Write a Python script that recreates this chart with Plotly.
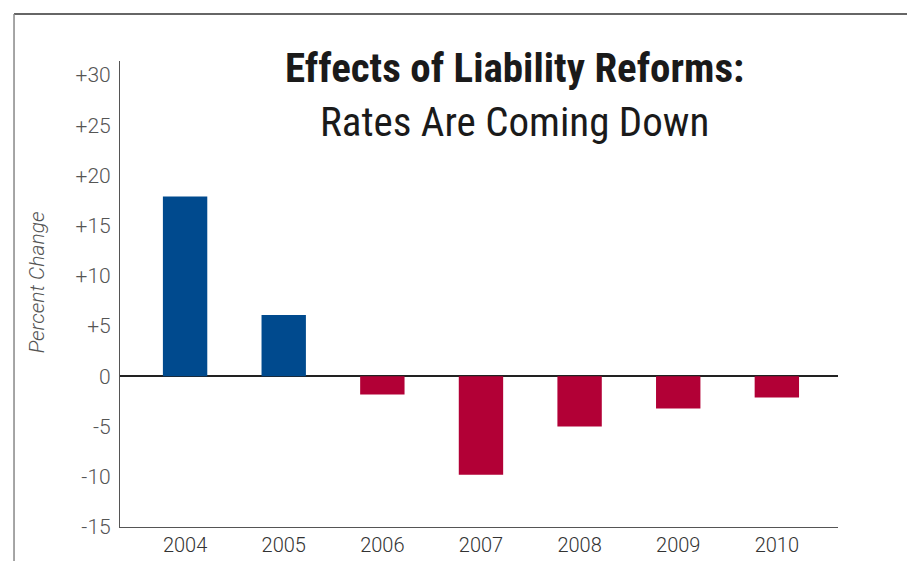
import plotly.graph_objects as go

years = ["2004", "2005", "2006", "2007", "2008", "2009", "2010"]
pct_change = [17.9, 6.1, -1.8, -9.8, -5.0, -3.2, -2.1]
y_tick_vals = [30, 25, 20, 15, 10, 5, 0, -5, -10, -15]
y_tick_text = ["+30", "+25", "+20", "+15", "+10", "+5", "0", "-5", "-10", "-15"]
title_line1 = "Effects of Liability Reforms:"
title_line2 = "Rates Are Coming Down"
y_title = "Percent Change"

BLUE = "#004A8E"
RED = "#B20036"
bar_colors = [BLUE if v >= 0 else RED for v in pct_change]

fig = go.Figure()
fig.add_trace(go.Bar(
    x=years, y=pct_change, marker=dict(color=bar_colors, line=dict(width=0)),
    width=0.45, showlegend=False, hoverinfo="x+y",
))

narrow = "Liberation Sans Narrow, Roboto Condensed, Arial Narrow, sans-serif"
light = "Roboto, Liberation Sans, sans-serif"

fig.update_layout(
    width=915, height=561,
    margin=dict(l=112, r=85, t=53, b=28),
    paper_bgcolor="white", plot_bgcolor="white",
    xaxis=dict(
        type="category", range=[-0.66, 6.62],
        showline=True, linecolor="#555", linewidth=1.2,
        showgrid=False, zeroline=False, ticks="",
        tickfont=dict(family=light, size=20, color="#333", weight=300),
    ),
    yaxis=dict(
        range=[-15, 31.4], tickvals=y_tick_vals, ticktext=y_tick_text,
        showline=True, linecolor="#555", linewidth=1.2,
        showgrid=False, zeroline=True, zerolinecolor="#222", zerolinewidth=1.5,
        ticks="", ticklabelstandoff=4,
        tickfont=dict(family=light, size=21, color="#555", weight=300),
    ),
    annotations=[
        dict(text="<b>" + title_line1 + "</b>", xref="paper", yref="paper",
             x=0.550, y=0.985, xanchor="center", yanchor="middle", showarrow=False,
             font=dict(family=narrow, size=41, color="#1a1a1a")),
        dict(text=title_line2, xref="paper", yref="paper",
             x=0.550, y=0.870, xanchor="center", yanchor="middle", showarrow=False,
             font=dict(family=narrow, size=41, color="#1a1a1a")),
        dict(text="<i>" + y_title + "</i>", xref="paper", yref="paper",
             x=-0.1156, y=0.525, xanchor="center", yanchor="middle", showarrow=False,
             textangle=-90, font=dict(family=light, size=21, color="#555", weight=300)),
    ],
    shapes=[
        dict(type="line", xref="paper", yref="paper", x0=-0.1476, x1=1.2,
             y0=1.101, y1=1.101, line=dict(color="#333", width=1.5)),
        dict(type="line", xref="paper", yref="paper", x0=-0.1476, x1=-0.1476,
             y0=1.101, y1=-0.1, line=dict(color="#888", width=1.5)),
    ],
)

fig.write_html("out.html")
